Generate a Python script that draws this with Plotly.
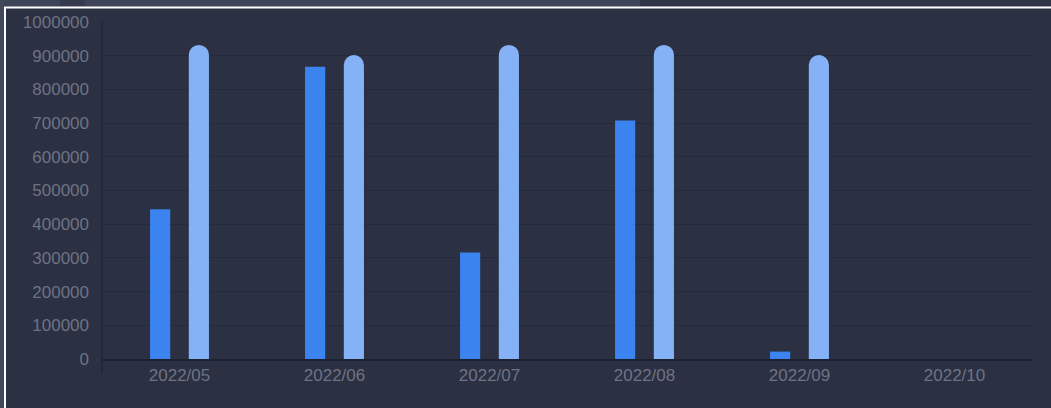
import plotly.graph_objects as go

FONT = "Liberation Sans"
BG = "#2b3043"
TICK_COLOR = "#6e7384"
GRID_COLOR = "#252a3b"
AXIS_COLOR = "#1d2130"

months = ["2022/05", "2022/06", "2022/07", "2022/08", "2022/09", "2022/10"]
actual = [444000, 867000, 316000, 708000, 22000, None]
target = [932000, 902000, 932000, 932000, 902000, None]

# plot area in pixels (for the frame decorations)
W, H = 1051, 408
L, R, T, B = 102, 19, 22, 49
PW, PH = W - L - R, H - T - B


def px(x):
    return (x - L) / PW


def py(y):
    return (H - B - y) / PH


fig = go.Figure()
fig.add_trace(go.Bar(x=months, y=actual, name="actual",
                     marker=dict(color="#3b83ef", line=dict(width=0))))
fig.add_trace(go.Bar(x=months, y=target, name="target",
                     marker=dict(color="#85b1f6", cornerradius=10, line=dict(width=0))))

P = dict(xref="paper", yref="paper")
shapes = [
    # blurred page behind the panel
    dict(type="rect", x0=px(0), x1=px(W), y0=py(0), y1=py(7), fillcolor="#3f4558", line_width=0, **P),
    dict(type="rect", x0=px(0), x1=px(4), y0=py(0), y1=py(H), fillcolor="#42485b", line_width=0, **P),
    dict(type="rect", x0=px(640), x1=px(W), y0=py(0), y1=py(6), fillcolor="#2f3446", line_width=0, **P),
    dict(type="rect", x0=px(60), x1=px(85), y0=py(0), y1=py(6), fillcolor="#353a4c", line_width=0, **P),
    # white frame
    dict(type="line", x0=px(4), x1=px(W), y0=py(7.5), y1=py(7.5), line=dict(color="#ffffff", width=2), **P),
    dict(type="line", x0=px(5), x1=px(5), y0=py(7), y1=py(H), line=dict(color="#ffffff", width=2), **P),
    # y axis line running past the x axis
    dict(type="line", x0=0, x1=0, y0=1, y1=py(373), line=dict(color=AXIS_COLOR, width=1), **P),
]

fig.update_layout(
    width=W, height=H,
    margin=dict(l=L, r=R, t=T, b=B),
    paper_bgcolor=BG, plot_bgcolor=BG,
    barmode="group", bargap=0.5, bargroupgap=0.48,
    showlegend=False,
    font=dict(family=FONT, size=17, color=TICK_COLOR),
    shapes=shapes,
)
fig.update_xaxes(showgrid=False, showline=True, linecolor=AXIS_COLOR, linewidth=2,
                 ticks="", tickfont=dict(size=17, color=TICK_COLOR), zeroline=False)
fig.update_yaxes(range=[0, 1000000], dtick=100000, tickformat="d",
                 showgrid=True, gridcolor=GRID_COLOR, gridwidth=1,
                 zeroline=False, showline=False, ticks="", ticklabelstandoff=12,
                 tickfont=dict(size=17, color=TICK_COLOR))

fig.write_html("out.html", config={"displayModeBar": False},
               post_script="document.body.style.margin='0';")
